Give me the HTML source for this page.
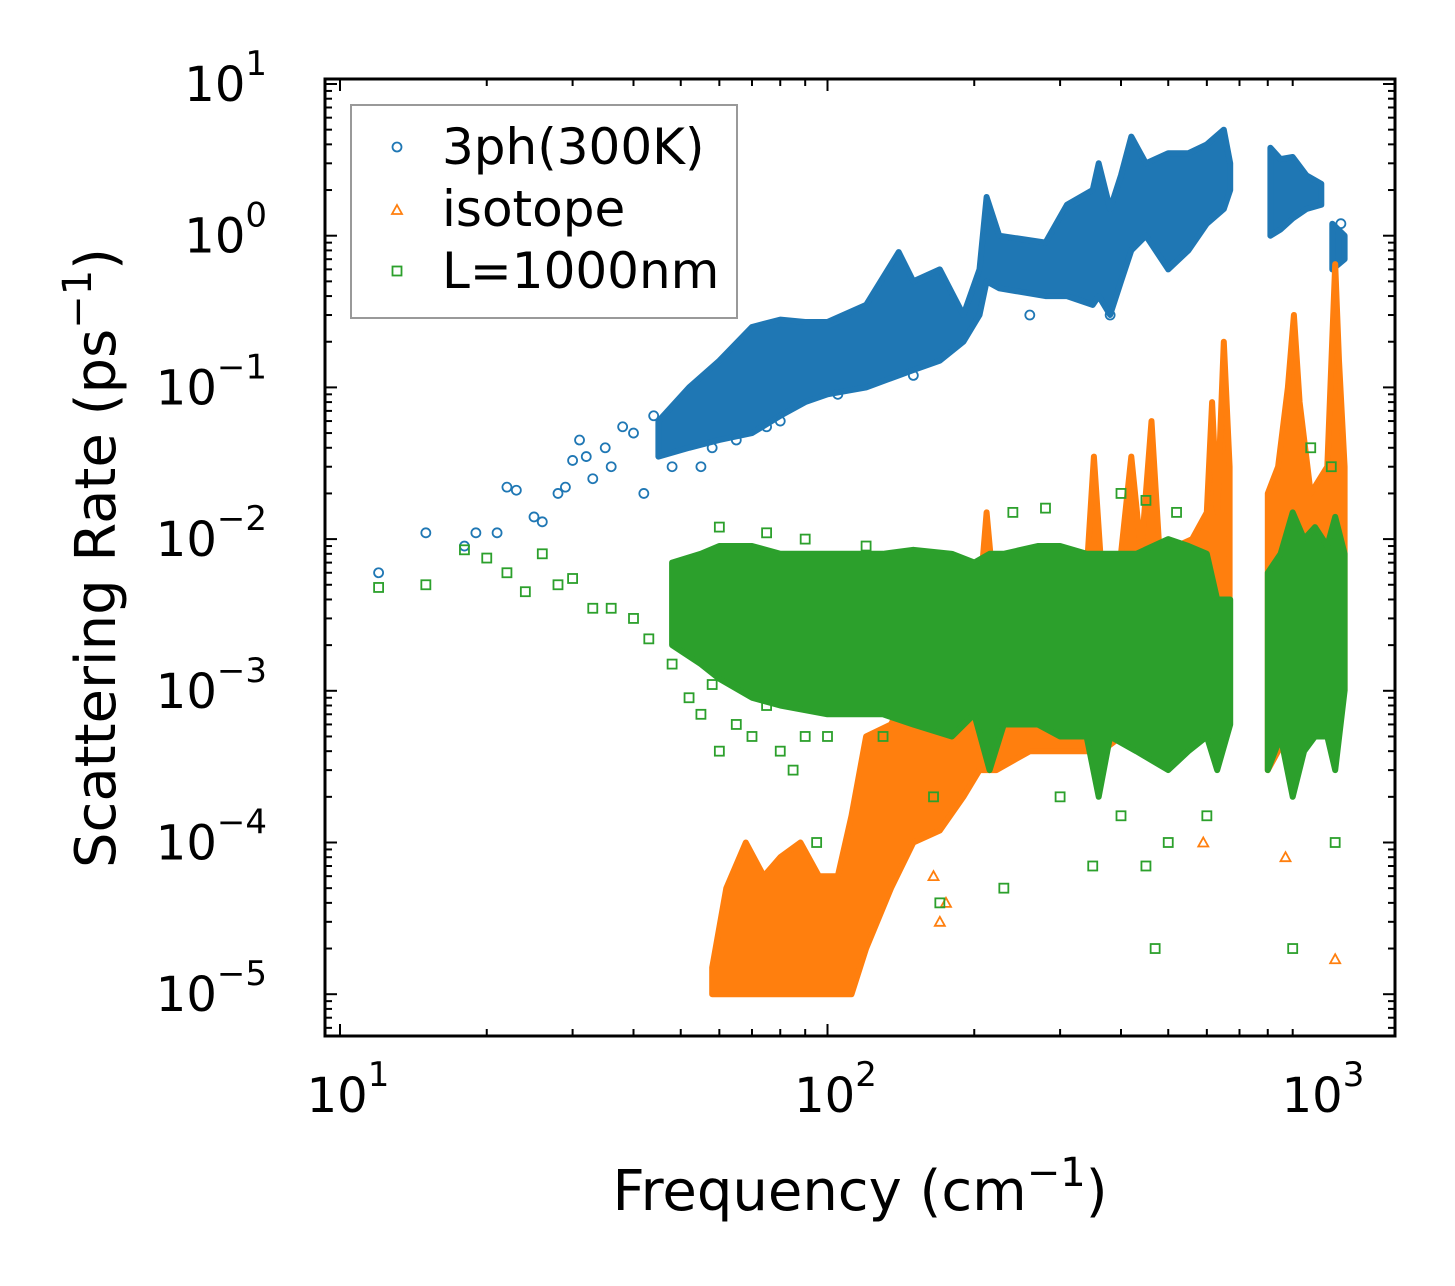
<!DOCTYPE html>
<html><head><meta charset="utf-8">
<style>
html,body{margin:0;padding:0;background:#fff;}
body{position:relative;}
svg{position:absolute;left:0;top:0;}
svg text{font-family:"DejaVu Sans","Liberation Sans",sans-serif;fill:#000;}
</style></head>
<body>
<svg id="chart" width="1455" height="1286" viewBox="0 0 1455 1286" xmlns="http://www.w3.org/2000/svg">
<g id="plot"></g>
</svg>
<script>
// ---- data ----
const xTickValues = [10, 100, 1000];
const yTickValues = [10, 1, 0.1, 0.01, 0.001, 0.0001, 0.00001];
const xTickExp = ["1", "2", "3"];
const yTickExp = ["1", "0", "\u22121", "\u22122", "\u22123", "\u22124", "\u22125"];
// dense-band envelopes: [freq, low, high]
const blueBand1 = [[45,0.035,0.06],[52,0.04,0.1],[60,0.045,0.15],[70,0.05,0.25],[80,0.065,0.28],[90,0.08,0.27],[100,0.09,0.27],[120,0.1,0.35],[140,0.12,0.78],[150,0.13,0.5],[170,0.15,0.6],[190,0.2,0.3],[205,0.3,0.6],[212,0.5,1.8],[225,0.45,1.0],[280,0.4,0.9],[310,0.4,1.6],[350,0.35,2.0],[360,0.4,3.0],[380,0.3,1.5],[400,0.5,2.5],[420,0.8,4.5],[450,1.0,3.0],[500,0.6,3.5],[550,0.8,3.5],[600,1.2,4.0],[650,1.5,5.0],[670,2.0,3.0]];
const blueBand2 = [[810,1.0,3.8],[850,1.1,3.2],[900,1.3,3.3],[960,1.5,2.5],[1030,1.6,2.2]];
const blueBand3 = [[1085,0.6,1.2],[1150,0.7,1.0]];
const orangeBand1 = [[58,1e-5,1.5e-5],[62,1e-5,5e-5],[68,1e-5,1e-4],[74,1e-5,6e-5],[80,1e-5,8e-5],[88,1e-5,1e-4],[96,1e-5,6e-5],[105,1e-5,6e-5],[112,1e-5,1.5e-4],[120,2e-5,5e-4],[135,5e-5,6e-4],[150,1e-4,1.2e-3],[170,1.2e-4,1e-3],[190,2e-4,1.5e-3],[205,3e-4,4e-3],[212,3e-4,1.5e-2],[222,3e-4,3e-3],[260,4e-4,5e-3],[300,4e-4,6e-3],[340,4e-4,6e-3],[352,4e-4,3.5e-2],[365,4e-4,6e-3],[400,5e-4,8e-3],[420,6e-4,3.5e-2],[440,6e-4,8e-3],[462,6e-4,6e-2],[480,6e-4,8e-3],[560,6e-4,1e-2],[600,7e-4,1.5e-2],[615,7e-4,8e-2],[630,7e-4,1.5e-2],[650,8e-4,2e-1],[668,1e-3,3e-2]];
const orangeBand2 = [[800,3e-4,2e-2],[840,4e-4,3e-2],[880,5e-4,0.1],[905,6e-4,0.3],[930,7e-4,0.08],[980,1e-3,0.02],[1060,1e-3,0.03],[1100,1e-3,0.65],[1120,1e-3,0.15],[1150,1e-3,0.03]];
const greenBand1 = [[48,0.002,0.007],[55,0.0015,0.008],[60,0.0012,0.009],[70,0.0009,0.009],[80,0.0008,0.008],[100,0.0007,0.008],[130,0.0007,0.008],[150,0.0006,0.0085],[180,0.0005,0.008],[200,0.0007,0.007],[215,0.0003,0.008],[230,0.0006,0.008],[270,0.0006,0.009],[300,0.0005,0.009],[340,0.0005,0.008],[360,0.0002,0.008],[380,0.0005,0.008],[430,0.0004,0.008],[500,0.0003,0.01],[550,0.0004,0.009],[600,0.0005,0.008],[630,0.0003,0.004],[670,0.0006,0.004]];
const greenBand2 = [[800,0.0003,0.006],[850,0.0005,0.008],[900,0.0002,0.015],[950,0.0004,0.01],[1000,0.0005,0.012],[1060,0.0005,0.009],[1100,0.0003,0.014],[1150,0.001,0.008]];
const bluePts = [[12,0.006],[15,0.011],[18,0.009],[19,0.011],[21,0.011],[22,0.022],[23,0.021],[25,0.014],[26,0.013],[28,0.02],[29,0.022],[30,0.033],[31,0.045],[32,0.035],[33,0.025],[35,0.04],[36,0.03],[38,0.055],[40,0.05],[42,0.02],[44,0.065],[48,0.03],[55,0.03],[58,0.04],[65,0.045],[75,0.055],[80,0.06],[105,0.09],[150,0.12],[260,0.3],[380,0.3],[1130,1.2]];
const orangePts = [[170,0.00003],[165,0.00006],[175,0.00004],[600,0.006],[590,0.0001],[870,0.00008],[1100,0.000017]];
const greenPts = [[12,0.0048],[15,0.005],[18,0.0085],[20,0.0075],[22,0.006],[24,0.0045],[26,0.008],[28,0.005],[30,0.0055],[33,0.0035],[36,0.0035],[40,0.003],[43,0.0022],[48,0.0015],[52,0.0009],[55,0.0007],[58,0.0011],[60,0.0004],[65,0.0006],[70,0.0005],[75,0.0008],[80,0.0004],[85,0.0003],[90,0.0005],[95,0.0001],[100,0.0005],[130,0.0005],[165,0.0002],[170,0.00004],[230,0.00005],[300,0.0002],[350,0.00007],[400,0.00015],[450,0.00007],[470,0.00002],[500,0.0001],[600,0.00015],[900,0.00002],[1100,0.0001],[240,0.015],[280,0.016],[400,0.02],[450,0.018],[520,0.015],[980,0.04],[1080,0.03],[60,0.012],[75,0.011],[90,0.01],[120,0.009]];

// ---- axes ----
const L=325,R=1395,T=79,B=1036;
const X0=340, XD=487.5, Y0=84, YD=151.7;
const xs = v => X0 + (Math.log10(v)-1)*XD;
const ys = v => Y0 + (1-Math.log10(v))*YD;
const NS="http://www.w3.org/2000/svg";
const plot=document.getElementById('plot');
function mk(tag,attrs,parent){const e=document.createElementNS(NS,tag);for(const k in attrs)e.setAttribute(k,attrs[k]);(parent||plot).appendChild(e);return e;}
const C={b:'#1f77b4',o:'#ff7f0e',g:'#2ca02c'};

const clip=mk('clipPath',{id:'clp'});mk('rect',{x:L,y:T,width:R-L,height:B-T},clip);
const dg=mk('g',{'clip-path':'url(#clp)'});



function band(arr,color,name){
  let d='M'+arr.map(p=>xs(p[0]).toFixed(1)+','+ys(p[2]).toFixed(1)).join('L');
  d+='L'+arr.slice().reverse().map(p=>xs(p[0]).toFixed(1)+','+ys(p[1]).toFixed(1)).join('L')+'Z';
  const e=mk('path',{d:d,fill:color,stroke:color,'stroke-width':6,'stroke-linejoin':'round'},dg);
  
  
}
function circle(x,y,p){return mk('circle',{cx:x,cy:y,r:4.5,fill:'none',stroke:C.b,'stroke-width':1.8},p);}
function tri(x,y,p){return mk('path',{d:`M${x},${y-5}L${x+5},${y+4}L${x-5},${y+4}Z`,fill:'none',stroke:C.o,'stroke-width':1.8},p);}
function sq(x,y,p){return mk('rect',{x:x-4.5,y:y-4.5,width:9,height:9,fill:'none',stroke:C.g,'stroke-width':1.8},p);}

[blueBand1,blueBand2,blueBand3].forEach((b,i)=>band(b,C.b,'blue-band-'+i));
bluePts.forEach(p=>{const e=circle(xs(p[0]),ys(p[1]),dg);});
[orangeBand1,orangeBand2].forEach((b,i)=>band(b,C.o,'isotope-band-'+i));
orangePts.forEach(p=>{const e=tri(xs(p[0]),ys(p[1]),dg);});
[greenBand1,greenBand2].forEach((b,i)=>band(b,C.g,'boundary-band-'+i));
greenPts.forEach(p=>{const e=sq(xs(p[0]),ys(p[1]),dg);});

// frame
const fr=mk('rect',{x:L,y:T,width:R-L,height:B-T,fill:'none',stroke:'#000','stroke-width':3});

// ticks
for(let e=1;e<=3;e++){for(let m=1;m<10;m++){const v=Math.pow(10,e)*m/10;const x=xs(v);if(x<L||x>R)continue;const len=m==1?12:7;
 mk('line',{x1:x,x2:x,y1:B,y2:B-len,stroke:'#000','stroke-width':2});mk('line',{x1:x,x2:x,y1:T,y2:T+len,stroke:'#000','stroke-width':2});}}
for(let e=-6;e<=1;e++){for(let m=1;m<10;m++){const v=Math.pow(10,e)*m;const y=ys(v);if(y<T||y>B)continue;const len=m==1?12:7;
 mk('line',{x1:L,x2:L+len,y1:y,y2:y,stroke:'#000','stroke-width':2});mk('line',{x1:R,x2:R-len,y1:y,y2:y,stroke:'#000','stroke-width':2});}}
xTickValues.forEach((v,i)=>{const t=mk('text',{x:xs(v)+8,y:1112,'font-size':48,'text-anchor':'middle'});
 
 t.innerHTML='10<tspan font-size="34" dy="-26">'+xTickExp[i]+'</tspan>';});
yTickValues.forEach((v,i)=>{const t=mk('text',{x:267,y:ys(v)+17,'font-size':48,'text-anchor':'end'});
 
 t.innerHTML='10<tspan font-size="34" dy="-26">'+yTickExp[i]+'</tspan>';});
</script>
<svg width="1455" height="1286" xmlns="http://www.w3.org/2000/svg">
<text x="860" y="1210" font-size="56" text-anchor="middle">Frequency (cm<tspan font-size="40" dy="-24">−1</tspan><tspan dy="24">)</tspan></text>
<text transform="translate(115,558) rotate(-90)" font-size="56" text-anchor="middle">Scattering Rate (ps<tspan font-size="40" dy="-24">−1</tspan><tspan dy="24">)</tspan></text>
<g>
<rect x="351" y="105" width="386" height="213" fill="#fff" fill-opacity="0.8" stroke="#999" stroke-width="2"/>
<circle cx="397" cy="147" r="4.5" fill="none" stroke="#1f77b4" stroke-width="1.8"/>
<text x="442" y="164" font-size="50">3ph(300K)</text>
<path d="M397,205L402,214L392,214Z" fill="none" stroke="#ff7f0e" stroke-width="1.8"/>
<text x="442" y="226" font-size="50">isotope</text>
<rect x="392.5" y="266.5" width="9" height="9" fill="none" stroke="#2ca02c" stroke-width="1.8"/>
<text x="442" y="288" font-size="50">L=1000nm</text>
</g>
</svg>
</body></html>
